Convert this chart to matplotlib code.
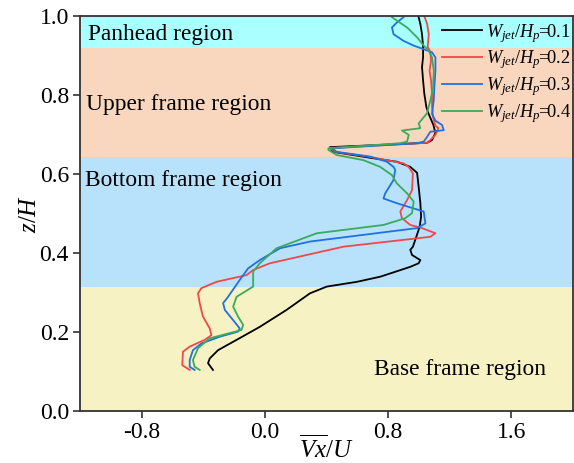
import matplotlib
matplotlib.use("Agg")
import matplotlib.pyplot as plt

plt.rcParams["font.family"] = ["Liberation Serif", "DejaVu Serif"]
plt.rcParams["mathtext.fontset"] = "custom"
plt.rcParams["mathtext.rm"] = "Liberation Serif"
plt.rcParams["mathtext.it"] = "Liberation Serif:italic"

# Mean streamwise velocity profiles Vx/U against height z/H
z_01 = [0.104, 0.121, 0.133, 0.154, 0.180, 0.213, 0.256, 0.298, 0.315, 0.327, 0.340, 0.365,
        0.374, 0.382, 0.395, 0.408, 0.416, 0.441, 0.467, 0.492, 0.527, 0.568, 0.603, 0.618,
        0.631, 0.641, 0.656, 0.668, 0.679, 0.686, 0.704, 0.724, 0.754, 0.770, 0.803, 0.836,
        0.871, 0.896, 0.922, 0.954, 0.980, 0.997]
vx_01 = [-0.337, -0.369, -0.358, -0.304, -0.184, -0.033, 0.141, 0.293, 0.402, 0.597, 0.749, 0.944,
         0.998, 1.009, 0.955, 0.944, 0.961, 0.983, 1.005, 1.014, 1.009, 0.998, 0.988, 0.944,
         0.857, 0.684, 0.443, 0.423, 1.053, 1.085, 1.107, 1.094, 1.061, 1.048, 1.035, 1.027,
         1.020, 1.027, 1.027, 1.020, 1.009, 0.998]

z_02 = [0.104, 0.116, 0.150, 0.163, 0.180, 0.192, 0.209, 0.239, 0.273, 0.298, 0.311, 0.327,
        0.344, 0.357, 0.374, 0.416, 0.441, 0.450, 0.463, 0.471, 0.488, 0.505, 0.534, 0.559,
        0.602, 0.618, 0.627, 0.643, 0.656, 0.666, 0.679, 0.686, 0.699, 0.716, 0.722, 0.744,
        0.770, 0.803, 0.836, 0.862, 0.887, 0.909, 0.922, 0.954, 0.980, 1.0]
vx_02 = [-0.488, -0.536, -0.532, -0.488, -0.391, -0.347, -0.358, -0.402, -0.423, -0.434, -0.412, -0.314,
         -0.119, -0.076, 0.033, 0.510, 1.074, 1.107, 1.020, 0.944, 0.890, 0.879, 0.923, 0.955,
         0.961, 0.933, 0.900, 0.684, 0.456, 0.423, 1.053, 1.074, 1.107, 1.126, 1.107, 1.092,
         1.085, 1.085, 1.079, 1.069, 1.079, 1.074, 1.057, 1.064, 1.053, 1.035]

z_03 = [0.104, 0.112, 0.129, 0.154, 0.171, 0.188, 0.201, 0.209, 0.230, 0.256, 0.273, 0.289,
        0.332, 0.361, 0.382, 0.412, 0.429, 0.463, 0.475, 0.505, 0.526, 0.538, 0.551, 0.585,
        0.610, 0.618, 0.631, 0.644, 0.656, 0.665, 0.678, 0.682, 0.694, 0.707, 0.711, 0.724,
        0.735, 0.752, 0.786, 0.819, 0.862, 0.895, 0.908, 0.916, 0.925, 0.937, 0.954, 0.971,
        0.984, 0.997]
vx_03 = [-0.456, -0.488, -0.488, -0.467, -0.412, -0.293, -0.174, -0.163, -0.206, -0.260, -0.271, -0.239,
         -0.163, -0.109, -0.033, 0.098, 0.293, 0.988, 1.042, 1.031, 0.857, 0.770, 0.781, 0.835,
         0.846, 0.835, 0.792, 0.684, 0.467, 0.434, 0.988, 1.031, 1.053, 1.074, 1.161, 1.150,
         1.107, 1.085, 1.096, 1.100, 1.107, 1.107, 1.085, 1.031, 0.966, 0.900, 0.835, 0.825,
         0.858, 0.900]

z_04 = [0.104, 0.112, 0.129, 0.159, 0.184, 0.205, 0.218, 0.239, 0.264, 0.289, 0.315, 0.353,
        0.374, 0.412, 0.450, 0.471, 0.488, 0.501, 0.530, 0.551, 0.576, 0.597, 0.618, 0.635,
        0.648, 0.661, 0.665, 0.678, 0.682, 0.699, 0.710, 0.716, 0.728, 0.754, 0.786, 0.819,
        0.862, 0.895, 0.912, 0.925, 0.946, 0.971, 0.988, 0.997]
vx_04 = [-0.423, -0.456, -0.467, -0.434, -0.358, -0.152, -0.141, -0.174, -0.206, -0.184, -0.076, -0.076,
         -0.033, 0.076, 0.337, 0.770, 0.911, 0.955, 0.966, 0.923, 0.857, 0.825, 0.749, 0.640,
         0.467, 0.412, 0.412, 0.879, 0.923, 0.934, 0.890, 1.009, 0.998, 1.053, 1.074, 1.092,
         1.096, 1.085, 1.064, 1.031, 0.988, 0.923, 0.858, 0.825]

ratios = ["0.1", "0.2", "0.3", "0.4"]
colors = ["black", "#f04848", "#2070e0", "#3aaa5c"]
profiles = [(vx_01, z_01), (vx_02, z_02), (vx_03, z_03), (vx_04, z_04)]

# Vehicle regions along the height: (bottom, top, label, colour, label position)
regions = [
    (0.0, 0.314, "Base frame region", "#f6f2c3", (0.71, 0.104)),
    (0.314, 0.643, "Bottom frame region", "#b8e2fb", (-1.165, 0.583)),
    (0.643, 0.919, "Upper frame region", "#f9d7bf", (-1.16, 0.777)),
    (0.919, 1.0, "Panhead region", "#aaffff", (-1.15, 0.952)),
]

fig = plt.figure(figsize=(5.74, 4.63), dpi=100)
ax = fig.add_axes([80 / 574, 52 / 463, 493 / 574, 395 / 463])

for lo, hi, name, color, (tx, ty) in regions:
    ax.axhspan(lo, hi, color=color, lw=0, zorder=0)
    ax.text(tx, ty, name, fontsize=16.8, va="center", ha="left", zorder=1)

for (vx, z), color, r in zip(profiles, colors, ratios):
    label = r"$W_{jet}/H_p\!\!=\!\!\mathit{" + r + "}$"
    ax.plot(vx, z, color=color, lw=1.3, label=label, zorder=2)

ax.set_xlim(-1.2, 2.0)
ax.set_ylim(0.0, 1.0)
ax.set_xticks([-0.8, 0.0, 0.8, 1.6])
ax.set_xticklabels(["-0.8", "0.0", "0.8", "1.6"])
ax.set_yticks([0.0, 0.2, 0.4, 0.6, 0.8, 1.0])
ax.set_yticklabels(["0.0", "0.2", "0.4", "0.6", "0.8", "1.0"])
ax.tick_params(labelsize=17, direction="out", length=5, width=1.2, color="#333333", pad=3)
for sp in ax.spines.values():
    sp.set_linewidth(1.3)
    sp.set_color("#333333")

ax.set_xlabel(r"$\overline{Vx}/U$", fontsize=18, labelpad=-6)
ax.set_ylabel(r"$z/H$", fontsize=18, labelpad=-1)

leg = ax.legend(loc="upper right", bbox_to_anchor=(1.005, 0.995), frameon=False, fontsize=13.2,
                handlelength=2.2, handletextpad=0.22, labelspacing=0.22, borderaxespad=0.0,
                borderpad=0.2)

fig.savefig("out.png", dpi=100)
